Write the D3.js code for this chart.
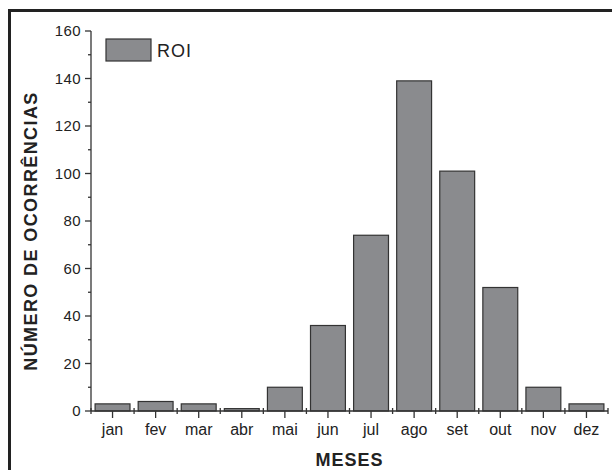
<html>
<head>
    <script src="https://d3js.org/d3.v7.min.js"></script>
    <style>
        body { margin: 0; background: white; }
        text { font-family: "Liberation Sans", Arial, sans-serif; fill: #222; }
        .bar { fill: #8a8b8e; stroke: #333; stroke-width: 1.2px; }
        .axis-line { stroke: #333; stroke-width: 1.3px; fill: none; }
    </style>
</head>
<body>
    <svg id="chart" width="612" height="470"></svg>
<script>
    const months = ["jan", "fev", "mar", "abr", "mai", "jun", "jul", "ago", "set", "out", "nov", "dez"];
    const roi = [3, 4, 3, 1, 10, 36, 74, 139, 101, 52, 10, 3];
    const yTicks = [0, 20, 40, 60, 80, 100, 120, 140, 160];
    const yMinor = [10, 30, 50, 70, 90, 110, 130, 150];

    const svg = d3.select("#chart");
    const plotLeft = 91, plotRight = 608, plotTop = 31, plotBottom = 411;

    // outer frame (only top and left visible)
    svg.append("path")
        .attr("d", "M9.5,470 L9.5,10.5 L612,10.5")
        .attr("fill", "none")
        .attr("stroke", "#222")
        .attr("stroke-width", 3);

    const x = d3.scaleBand().domain(months).range([plotLeft, plotRight])
        .paddingInner(0.19).paddingOuter(0.095);
    const y = d3.scaleLinear().domain([0, 160]).range([plotBottom, plotTop]);

    svg.selectAll("rect.bar").data(roi)
        .enter()
        .append("rect")
        .attr("class", "bar")
        .attr("x", (d, i) => x(months[i]))
        .attr("width", x.bandwidth())
        .attr("y", d => y(d))
        .attr("height", d => y(0) - y(d));

    // y axis
    const yAxis = svg.append("g");
    yAxis.append("line").attr("class", "axis-line")
        .attr("x1", plotLeft).attr("x2", plotLeft).attr("y1", y(160)).attr("y2", y(0));
    yAxis.selectAll("line.major").data(yTicks).enter().append("line")
        .attr("class", "axis-line")
        .attr("x1", plotLeft - 6).attr("x2", plotLeft)
        .attr("y1", d => y(d)).attr("y2", d => y(d));
    yAxis.selectAll("line.minor").data(yMinor).enter().append("line")
        .attr("class", "axis-line")
        .attr("x1", plotLeft - 3).attr("x2", plotLeft)
        .attr("y1", d => y(d)).attr("y2", d => y(d));
    yAxis.selectAll("text").data(yTicks).enter().append("text")
        .attr("x", plotLeft - 10)
        .attr("y", d => y(d))
        .attr("dy", "0.35em")
        .attr("text-anchor", "end")
        .style("font-size", "15px")
        .style("letter-spacing", "0.4px")
        .text(d => d);

    // x axis
    const xAxis = svg.append("g");
    xAxis.append("line").attr("class", "axis-line")
        .attr("x1", plotLeft).attr("x2", plotRight).attr("y1", y(0)).attr("y2", y(0));
    xAxis.selectAll("line.major").data(months).enter().append("line")
        .attr("class", "axis-line")
        .attr("x1", d => x(d) + x.bandwidth() / 2).attr("x2", d => x(d) + x.bandwidth() / 2)
        .attr("y1", y(0)).attr("y2", y(0) + 7);
    const bounds = d3.range(months.length + 1).map(i => plotLeft + i * x.step());
    xAxis.selectAll("line.minor").data(bounds).enter().append("line")
        .attr("class", "axis-line")
        .attr("x1", d => d).attr("x2", d => d)
        .attr("y1", y(0) - 3).attr("y2", y(0) + 3);
    xAxis.selectAll("text").data(months).enter().append("text")
        .attr("x", d => x(d) + x.bandwidth() / 2)
        .attr("y", 435)
        .attr("text-anchor", "middle")
        .style("font-size", "16px")
        .text(d => d);

    // axis titles
    svg.append("text")
        .attr("x", (plotLeft + plotRight) / 2)
        .attr("y", 466)
        .attr("text-anchor", "middle")
        .style("font-size", "18px")
        .style("font-weight", "bold")
        .style("letter-spacing", "1px")
        .text("MESES");

    svg.append("text")
        .attr("transform", "translate(37,231) rotate(-90)")
        .attr("text-anchor", "middle")
        .style("font-size", "18px")
        .style("font-weight", "bold")
        .style("letter-spacing", "1.4px")
        .text("NÚMERO DE OCORRÊNCIAS");

    // legend
    svg.append("rect")
        .attr("class", "bar")
        .attr("x", 106).attr("y", 39)
        .attr("width", 45).attr("height", 22);
    svg.append("text")
        .attr("x", 157).attr("y", 57)
        .style("font-size", "18px")
        .style("letter-spacing", "1px")
        .text("ROI");
</script>
</body>
</html>
